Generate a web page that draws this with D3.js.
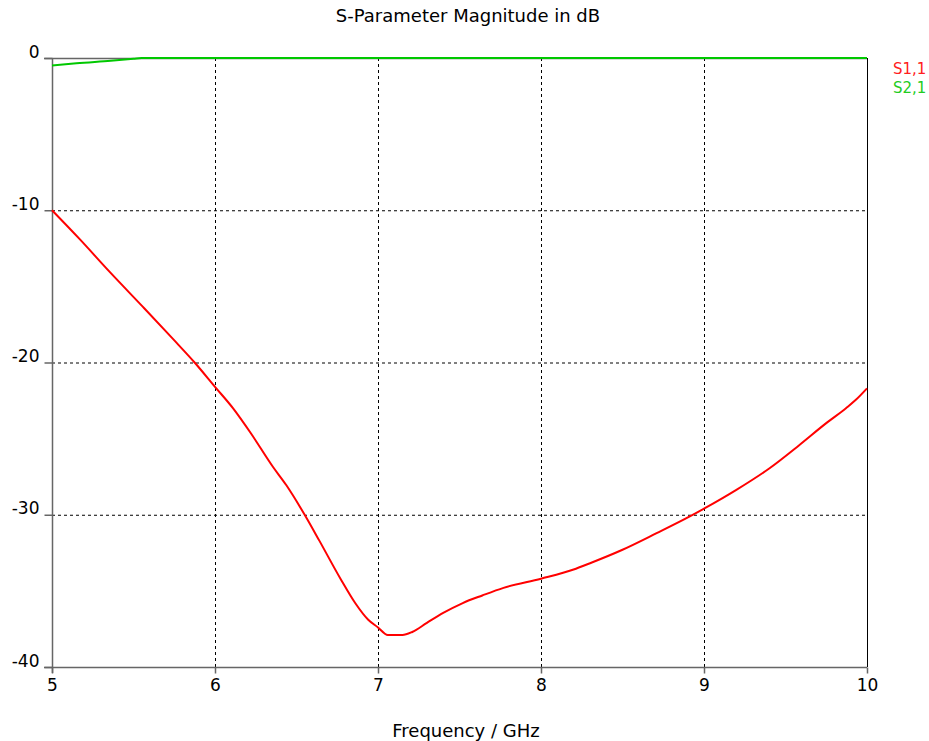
<!DOCTYPE html>
<html>
<head>
<meta charset="utf-8">
<script src="https://cdn.jsdelivr.net/npm/d3@7"></script>
<style>
  body { margin: 0; background: #fff; }
  text { font-family: "DejaVu Sans", sans-serif; }
</style>
</head>
<body>
<div id="chart"></div>
<script>
var width = 929,
    height = 741;

// frequency in GHz, magnitude in dB
var s11Freq = [5.0, 5.17, 5.354, 5.558, 5.742, 5.875, 6.0, 6.11, 6.22, 6.355, 6.437, 6.55, 6.64, 6.775,
               6.86, 6.94, 7.0, 7.06, 7.15, 7.21, 7.30, 7.40, 7.52, 7.64, 7.77, 8.0, 8.2, 8.297,
               8.5, 8.706, 8.91, 9.0, 9.196, 9.40, 9.584, 9.748, 9.871, 9.93, 10.0];
var s11dB   = [-10.0, -11.9, -14.05, -16.35, -18.45, -20.0, -21.6, -23.0, -24.65, -26.85, -28.05, -30.0, -31.7, -34.3,
               -35.8, -36.9, -37.4, -37.9, -37.9, -37.7, -37.1, -36.45, -35.8, -35.3, -34.8, -34.2, -33.6, -33.2,
               -32.3, -31.23, -30.13, -29.6, -28.38, -26.96, -25.43, -24.0, -23.0, -22.47, -21.7];

var s21Freq = [5.0, 5.15, 5.36, 5.5, 5.55, 10.0];
var s21dB   = [-0.5, -0.35, -0.18, -0.05, 0, 0];

var xTicks = [5, 6, 7, 8, 9, 10];
var yTicks = [0, -10, -20, -30, -40];

var seriesNames = ["S1,1", "S2,1"];
var seriesColors = ["#ff0000", "#00c800"];

var svg = d3.select("#chart").append("svg")
  .attr("width", width)
  .attr("height", height);

var x = d3.scaleLinear().domain([5, 10]).range([52, 867]);
var y = d3.scaleLinear().domain([-40, 0]).range([667, 58]);

// grid
svg.append("g").selectAll("line")
  .data(xTicks.filter(function(d) { return d > 5 && d < 10; }))
  .enter().append("line")
  .attr("x1", function(d) { return x(d) + 0.5; })
  .attr("x2", function(d) { return x(d) + 0.5; })
  .attr("y1", y(0)).attr("y2", y(-40))
  .attr("stroke", "#000").attr("stroke-dasharray", "3,3");

svg.append("g").selectAll("line")
  .data(yTicks.filter(function(d) { return d < 0 && d > -40; }))
  .enter().append("line")
  .attr("x1", x(5)).attr("x2", x(10))
  .attr("y1", function(d) { return y(d) + 0.5; })
  .attr("y2", function(d) { return y(d) + 0.5; })
  .attr("stroke", "#000").attr("stroke-dasharray", "3,3");

// frame
svg.append("line").attr("x1", x(10) + 0.5).attr("x2", x(10) + 0.5)
  .attr("y1", y(0)).attr("y2", y(-40)).attr("stroke", "#000");
svg.append("line").attr("x1", 44).attr("x2", x(10))
  .attr("y1", y(0) + 0.5).attr("y2", y(0) + 0.5).attr("stroke", "#666").attr("stroke-width", 1.5);

// axes
var fmt = function(d) { return String(d); };
var yAxis = d3.axisLeft(y).tickValues(yTicks).tickSize(8).tickPadding(5).tickFormat(fmt);
var xAxis = d3.axisBottom(x).tickValues(xTicks).tickSize(6).tickPadding(5).tickFormat(fmt);

var gy = svg.append("g").attr("transform", "translate(" + (x(5) + 0.5) + ",0)").call(yAxis);
var gx = svg.append("g").attr("transform", "translate(0," + (y(-40) + 0.5) + ")").call(xAxis);

[gx, gy].forEach(function(g) {
  g.select(".domain").attr("stroke", "#666").attr("stroke-width", 1.5);
  g.selectAll(".tick line").attr("stroke", "#666").attr("stroke-width", 1.5);
  g.selectAll(".tick text").attr("fill", "#000")
    .style("font-family", "'DejaVu Sans', sans-serif").style("font-size", "17px");
});
gy.select(".domain").attr("d", "M0," + y(0) + "V" + (y(-40) + 6));
gx.select(".domain").attr("d", "M" + 44 + ",0H" + x(10));
gy.selectAll(".tick text").attr("dy", "0").attr("y", -1);
gx.selectAll(".tick text").attr("dy", "0.71em");

// lines
var line = d3.line()
  .curve(d3.curveMonotoneX)
  .x(function(d) { return x(d[0]); })
  .y(function(d) { return y(d[1]); });

svg.append("path")
  .datum(d3.zip(s21Freq, s21dB))
  .attr("d", line)
  .attr("fill", "none")
  .attr("stroke", seriesColors[1])
  .attr("stroke-width", 2);

svg.append("path")
  .datum(d3.zip(s11Freq, s11dB))
  .attr("d", line)
  .attr("fill", "none")
  .attr("stroke", seriesColors[0])
  .attr("stroke-width", 2);

// titles
svg.append("text")
  .attr("x", 468).attr("y", 22)
  .attr("text-anchor", "middle")
  .style("font-size", "18px")
  .text("S-Parameter Magnitude in dB");

svg.append("text")
  .attr("x", 466).attr("y", 737)
  .attr("text-anchor", "middle")
  .style("font-size", "18px")
  .text("Frequency / GHz");

// legend
svg.append("g").selectAll("text")
  .data(seriesNames)
  .enter().append("text")
  .attr("x", 893)
  .attr("y", function(d, i) { return 74 + i * 19; })
  .attr("fill", function(d, i) { return i === 0 ? "#ff2020" : "#22cc22"; })
  .style("font-size", "15px")
  .text(function(d) { return d; });
</script>
</body>
</html>
